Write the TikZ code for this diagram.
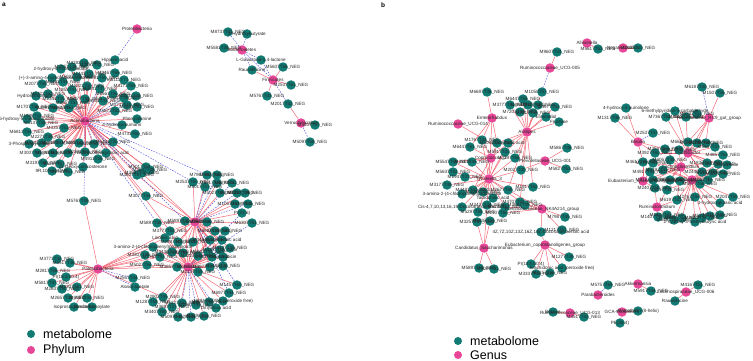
\documentclass[tikz,border=0pt]{standalone}
\usepackage{fontspec}
\setmainfont{Liberation Sans}
\definecolor{metTeal}{RGB}{16,122,115}
\definecolor{taxPink}{RGB}{232,70,150}
\definecolor{posRed}{RGB}{240,80,95}
\definecolor{negBlue}{RGB}{90,90,225}
\pgfdeclarelayer{edges}
\pgfdeclarelayer{dots}
\pgfsetlayers{edges,dots,main}

% taxa: name/x/y/label
\newcommand\taxaList{%
pP/137/29/Proteobacteria, pA1/85/121/Actinobacteria, pB/242/50/Bacteroidetes,
pF/273/80/Firmicutes, pV/301/123/Verrucomicrobia, pPat/98/269/Patescibacteria,
pH2/195/222/Cyanobacteria, pH3/188/267/Tenericutes,
gR05/550/68/{Ruminococcaceae\_UCG-005}, gAll/587/43/Allisonella, gNeg/623/48/Negativibacillus,
gEnt/492/118/Enterorhabdus, gR14/458/124/{Ruminococcaceae\_UCG-014}, gAli/527/132/Alistipes,
gCop/491/158/{Coprococcus\_2}, gP01/545/161/{Prevotellaceae\_UCG-001}, gTyz/489/179/{Tyzzerella\_3},
gNK/542/209/{Ruminococcaceae\_NK4A214\_group}, gSac/484/248/{Candidatus\_Saccharimonas},
gEco/545/245/{Eubacterium\_coprostanoligenes\_group}, gB13/570/313/{Ruminococcaceae\_UCG-013},
gGCA/622/312/{GCA-900066575}, gPar/598/295/Parabacteroides, gAkk/638/284/Akkermansia,
gL06/686/292/{Lachnospiraceae\_UCG-006}, gBla/638/142/Blautia, gRC9/709/118/{Rikenellaceae\_RC9\_gut\_group},
gOsc/688/153/Oscillibacter, gLcl/681/167/Lachnoclostridium, gRu1/692/180/{Ruminococcus\_1},
gExy/643/181/{Eubacterium\_xylanophilum\_group}, gRcl/657/207/Ruminiclostridium}

% metabolites: name/x/y/taxon/link/label
\newcommand\metaList{%
a1/115/60/pP/ncor/{Hippuric acid}, a2/84/63/pA1/pcor/M4283T45\_NEG, a3/97/65/pA1/pcor/M3461T52\_NEG,
a4/61/69/pA1/pcor/{2-hydroxy-6-oxohexanoate}, a5/72/67/pA1/pcor/M2957T48\_NEG, a6/89/74/pA1/pcor/M1441T37\_NEG,
a7/102/78/pA1/ncor/M5291T60\_NEG, a8/115/73/pA1/pcor/M3467T66\_NEG, a9/124/80/pA1/pcor/M6111T71\_NEG,
a10/52/78/pA1/pcor/{(+)-3-amino-4-hydroxybutanoate}, a11/63/82/pA1/pcor/M3191T44\_NEG, a12/77/77/pA1/pcor/M5021T39\_NEG,
a13/42/84/pA1/pcor/M2077T58\_NEG, a14/131/86/pA1/pcor/M4171T63\_NEG, a15/72/90/pA1/pcor/M1853T41\_NEG,
a16/87/86/pA1/pcor/M6221T50\_NEG, a17/100/89/pA1/pcor/M3941T47\_NEG, a18/113/94/pA1/pcor/M2561T55\_NEG,
a19/124/98/pA1/ncor/M7011T36\_NEG, a20/136/96/pA1/pcor/M4533T49\_NEG, a21/36/96/pA1/pcor/Hydroxybupropion,
a22/48/94/pA1/pcor/M5321T62\_NEG, a23/60/99/pA1/pcor/M2341T45\_NEG, a24/85/99/pA1/pcor/M6177T38\_NEG,
a25/73/103/pA1/ncor/M3057T57\_NEG, a26/103/101/pA1/pcor/M4551T43\_NEG, a27/137/107/pA1/pcor/M2931T61\_NEG,
a28/127/105/pA1/ncor/M3711T40\_NEG, a29/115/111/pA1/pcor/M5871T52\_NEG, a30/34/107/pA1/pcor/M1707T59\_NEG,
a31/53/108/pA1/pcor/M4091T46\_NEG, a32/69/108/pA1/pcor/M2617T53\_NEG, a33/37/116/pA1/pcor/M1989T42\_NEG,
a34/27/119/pA1/pcor/{6-hydroxy-5-methoxyindole}, a35/137/119/pA1/pcor/Phenylalanine,
a36/122/125/pA1/ncor/{4-hydroxycoumarin}, a37/41/123/pA1/pcor/M5137T48\_NEG, a38/64/128/pA1/pcor/M3357T51\_NEG,
a39/27/132/pA1/pcor/M6813T44\_NEG, a40/135/134/pA1/pcor/M4731T60\_NEG, a41/48/137/pA1/pcor/M2271T39\_NEG,
a42/29/144/pA1/pcor/{3-Phosphoglycerate}, a43/42/143/pA1/pcor/M4241T55\_NEG, a44/59/143/pA1/pcor/M3617T47\_NEG,
a45/79/143/pA1/pcor/M5491T42\_NEG, a46/94/144/pA1/ncor/M2011T58\_NEG, a47/113/142/pA1/pcor/M6431T35\_NEG,
a48/37/153/pA1/pcor/M3007T49\_NEG, a49/53/153/pA1/pcor/M1887T61\_NEG, a50/68/153/pA1/pcor/M4667T44\_NEG,
a51/85/152/pA1/pcor/M2391T53\_NEG, a52/106/153/pA1/pcor/{Glycodeoxycholic acid}, a53/43/163/pA1/pcor/M3197T40\_NEG,
a54/60/164/pA1/pcor/M5567T57\_NEG, a55/83/167/pA1/pcor/{11-Deoxycorticosterone}, a56/98/159/pA1/pcor/M4911T46\_NEG,
a57/52/171/pA1/pcor/{9R,10S-EpOME}, a58/68/172/pA1/pcor/M2761T51\_NEG, a59/146/167/pA1/pcor/M5017T54\_NEG,
a60/150/170/pA1/pcor/M3827T48\_NEG, a61/142/173/pA1/ncor/M3537T40\_NEG, a62/84/201/pA1/ncor/M5767T38\_NEG,
d1/228/32/pB/ncor/M8737T41\_NEG, d2/247/34/pB/ncor/{3-Hydroxybutyrate}, d3/224/48/pB/pcor/M5581T38\_NEG,
d4/261/60/pF/ncor/{L-Galactono-1,4-lactone}, d5/252/70/pF/pcor/Raucaffricine, d6/283/67/pF/pcor/M5607T56\_NEG,
d7/291/85/pF/pcor/M2537T61\_NEG, d8/267/96/pF/pcor/M5767T43\_NEG, d9/288/104/pV/pcor/M2017T52\_NEG,
d10/315/125/pV/pcor/M5407T47\_NEG, d11/310/142/pV/ncor/M5097T58\_NEG,
c1/57/259/pPat/pcor/M3773T42\_NEG, c2/70/263/pPat/pcor/M5517T38\_NEG, c3/53/271/pPat/pcor/M2817T56\_NEG,
c4/66/277/pPat/pcor/{PI(18:1/20:4)}, c5/52/283/pPat/pcor/M5817T47\_NEG, c6/77/287/pPat/pcor/M4307T61\_NEG,
c7/62/289/pPat/pcor/M2637T50\_NEG, c8/68/298/pPat/pcor/M2657T43\_NEG, c9/87/298/pPat/pcor/M6057T59\_NEG,
c10/74/307/pPat/pcor/{Isoprostaglandin E2}, c11/92/307/pPat/pcor/Descarbamoylate,
c12/133/278/pPat/ncor/M2557T44\_NEG, c13/135/287/pPat/ncor/{Alosol acetate},
b1/207/175/pH2/pcor/M7967T41\_NEG, b2/217/175/pH2/ncor/M4807T55\_NEG, b3/193/182/pH2/pcor/M2537T60\_NEG,
b4/205/187/pH2/ncor/M3017T37\_NEG, b5/217/183/pH2/pcor/M5617T48\_NEG, b6/232/183/pH2/ncor/M6297T52\_NEG,
b7/220/193/pH2/pcor/M5027T45\_NEG, b8/237/193/pH2/ncor/M4387T58\_NEG, b9/245/193/pH2/pcor/M1227T39\_NEG,
b10/235/204/pH2/pcor/M1057T62\_NEG, b11/248/204/pH2/ncor/M3787T46\_NEG, b12/242/213/pH2/pcor/{PI(22:6)},
b13/252/223/pH2/pcor/M6307T51\_NEG, b14/146/196/pH2/pcor/M3077T44\_NEG, b15/137/175/pH2/pcor/M3837T57\_NEG,
b16/185/221/pH2/pcor/M5897T40\_NEG, b17/170/231/pH2/pcor/M3777T53\_NEG, b18/207/222/pH2/pcor/M2467T49\_NEG,
b19/215/231/pH2/pcor/M6617T36\_NEG, b20/225/231/pH2/pcor/M4157T61\_NEG, b21/165/238/pH2/pcor/{Linoleic acid},
b22/178/242/pH2/pcor/M2897T47\_NEG, b23/193/242/pH2/pcor/M5357T55\_NEG, b24/210/240/pH2/pcor/M3467T42\_NEG,
b25/222/240/pH2/pcor/{Hexadecenoic acid}, b26/153/247/pH3/pcor/{3-amino-2-(4-chlorophenyl)propanoate},
b27/172/252/pH3/pcor/M4437T50\_NEG, b28/183/253/pH3/pcor/M2187T58\_NEG, b29/208/252/pH3/pcor/M6047T43\_NEG,
b30/220/250/pH3/pcor/M3397T56\_NEG, b31/230/248/pH3/pcor/M5137T39\_NEG, b32/145/255/pH3/pcor/M3307T48\_NEG,
b33/160/257/pH3/pcor/M2787T62\_NEG, b34/198/256/pH3/pcor/M4227T45\_NEG, b35/212/257/pH3/pcor/M6807T51\_NEG,
b36/223/257/pH3/pcor/Daunorubicin, b37/147/265/pH3/pcor/M5027T54\_NEG, b38/177/267/pH3/pcor/M3657T40\_NEG,
b39/198/272/pH3/pcor/M2137T59\_NEG, b40/210/267/pH3/pcor/M4977T47\_NEG, b41/223/266/pH3/pcor/M5447T38\_NEG,
b42/237/285/pH3/pcor/M1457T60\_NEG, b43/229/293/pH3/pcor/M6977T44\_NEG,
b44/223/301/pH3/pcor/{13(S)-HpODE (peroxide free)}, b45/216/308/pH3/ncor/{Dihydroxy acid},
b46/204/316/pH3/pcor/M2297T53\_NEG, b47/191/317/pH3/ncor/M4127T41\_NEG, b48/209/302/pH3/pcor/M3557T56\_NEG,
b49/196/305/pH3/ncor/M1867T49\_NEG, b50/163/297/pH3/pcor/M2907T45\_NEG, b51/153/302/pH3/pcor/M1287T58\_NEG,
b52/172/307/pH3/pcor/M3687T37\_NEG, b53/182/303/pH3/ncor/M5227T52\_NEG, b54/162/312/pH3/pcor/M3407T60\_NEG,
b55/178/317/pH3/pcor/M5097T46\_NEG, b56/157/223/pH2/pcor/M5897T39\_NEG,
e1/557/52/gR05/pcor/M9607T44\_NEG, e2/542/92/gR05/ncor/M1050T57\_NEG,
f1/598/49/gAll/pcor/M5617T53\_NEG, f2/638/48/gNeg/pcor/M2997T40\_NEG,
h1/487/92/gEnt/pcor/M6697T38\_NEG, h3/523/99/gAli/pcor/M6447T55\_NEG, h4/510/105/gAli/pcor/M3777T41\_NEG,
h5/528/105/gAli/pcor/M8867T60\_NEG, h6/538/105/gAli/pcor/M5127T47\_NEG, h7/555/107/gAli/pcor/M4977T52\_NEG,
h8/520/112/gAli/pcor/M7207T39\_NEG, h9/533/113/gAli/pcor/M2817T58\_NEG, h10/546/117/gAli/pcor/Enterodiol,
h11/559/122/gAli/pcor/Fructose, h12/482/140/gCop/pcor/M1767T44\_NEG, h13/470/147/gCop/pcor/M6447T61\_NEG,
h14/497/143/gCop/pcor/M5091T50\_NEG, h15/508/143/gAli/pcor/{Glycocholic acid}, h16/505/152/gTyz/pcor/M5917T43\_NEG,
h17/515/158/gAli/pcor/M3297T56\_NEG, h18/567/148/gP01/pcor/M5867T48\_NEG, h19/566/169/gP01/pcor/M5827T53\_NEG,
h20/521/170/gP01/pcor/M2027T40\_NEG, h21/453/162/gTyz/pcor/M5547T59\_NEG, h22/472/162/gTyz/pcor/M2317T45\_NEG,
h23/453/172/gTyz/pcor/M5637T52\_NEG, h24/465/177/gTyz/pcor/M1947T37\_NEG, h25/447/185/gTyz/pcor/M3177T49\_NEG,
h26/533/187/gTyz/pcor/M1917T62\_NEG, h27/473/190/gTyz/pcor/M4487T41\_NEG, h28/483/192/gTyz/pcor/M3567T55\_NEG,
h29/508/190/gTyz/pcor/M2677T46\_NEG, h30/493/198/gTyz/pcor/{Taurocholic acid},
h31/462/194/gTyz/pcor/{3-amino-2-(4-chlorophenyl)propanoate}, h32/478/212/gTyz/pcor/M5297T58\_NEG,
h33/487/205/gTyz/pcor/M2427T44\_NEG, h34/505/207/gTyz/pcor/M6187T51\_NEG, h35/525/205/gTyz/pcor/M3887T39\_NEG,
h36/462/207/gTyz/pcor/{Cis-4,7,10,13,16,19-Docosahexaenoic acid}, h37/477/222/gSac/pcor/M3257T47\_NEG,
h38/490/221/gSac/pcor/M6037T53\_NEG, h39/503/213/gNK/pcor/M2107T60\_NEG, h40/520/202/gNK/pcor/M4707T42\_NEG,
h41/541/232/gNK/pcor/{4Z,7Z,10Z,13Z,16Z,19Z-Docosahexaenoic acid}, h42/562/230/gNK/pcor/M1217T57\_NEG,
h43/565/217/gNK/pcor/M7987T45\_NEG, h44/479/268/gSac/pcor/M5897T50\_NEG, h45/494/269/gSac/pcor/M3097T61\_NEG,
h46/531/264/gEco/pcor/{PI(18:0/20:4)}, h47/536/274/gEco/pcor/M3337T43\_NEG, h48/550/273/gEco/pcor/M2157T56\_NEG,
h49/562/268/gEco/pcor/{Arachidonic acid (peroxide free)}, h50/569/257/gEco/pcor/M1277T49\_NEG,
i1/553/312/gB13/pcor/Betaine, i2/584/317/gB13/pcor/M3517T42\_NEG, i3/638/311/gGCA/pcor/{Alamethicin (8-helix)},
i4/620/323/gGCA/pcor/{PE(36:4)}, i5/608/285/gPar/ncor/M5757T59\_NEG, i6/651/291/gAkk/pcor/M5917T44\_NEG,
i7/698/285/gL06/pcor/M4167T51\_NEG, i8/675/301/gL06/pcor/Rauwolscine,
k1/702/87/gRC9/ncor/M6187T40\_NEG, k2/720/93/gRC9/pcor/M1507T56\_NEG, k3/626/108/gBla/pcor/{4-hydroxy-2-quinolone},
k4/615/118/gBla/pcor/M1317T46\_NEG, k5/675/111/gRC9/pcor/{6-methylpyridine-3-carbaldehyde},
k6/666/117/gRC9/pcor/M7367T52\_NEG, k7/686/117/gRC9/pcor/M4017T39\_NEG, k8/697/114/gRC9/pcor/M5337T61\_NEG,
k9/653/133/gBla/ncor/M2537T47\_NEG, k10/665/149/gOsc/pcor/M3567T55\_NEG, k11/679/150/gOsc/pcor/M4427T42\_NEG,
k12/688/142/gOsc/pcor/M6627T58\_NEG, k13/697/143/gOsc/pcor/M2217T44\_NEG, k14/706/143/gOsc/pcor/M1057T50\_NEG,
k15/715/147/gOsc/pcor/M5667T37\_NEG, k16/723/155/gOsc/pcor/M4857T53\_NEG, k17/655/153/gBla/pcor/M3927T60\_NEG,
k18/643/162/gExy/pcor/M4617T45\_NEG, k19/653/163/gLcl/pcor/M2707T51\_NEG, k20/670/160/gLcl/pcor/M6067T38\_NEG,
k21/707/163/gOsc/pcor/M1837T62\_NEG, k22/718/164/gOsc/pcor/M3237T47\_NEG, k23/727/165/gRu1/pcor/Benzamide,
k24/650/172/gExy/pcor/M4917T54\_NEG, k25/663/170/gLcl/pcor/M5197T41\_NEG, k26/702/172/gRu1/pcor/M2447T57\_NEG,
k27/713/173/gRu1/pcor/M6357T43\_NEG, k28/723/174/gRu1/pcor/M3077T49\_NEG, k29/653/180/gExy/pcor/M9127T52\_NEG,
k30/670/180/gRu1/pcor/M2887T39\_NEG, k31/680/181/gRu1/pcor/M4677T60\_NEG, k32/700/184/gRu1/pcor/M5577T46\_NEG,
k33/708/180/gRu1/pcor/M1667T55\_NEG, k34/667/190/gRcl/pcor/M3447T44\_NEG, k35/655/188/gExy/pcor/M2407T58\_NEG,
k36/733/197/gRu1/pcor/M2047T50\_NEG, k37/720/203/gRu1/pcor/{3-hydroxyglutaric acid}, k38/677/200/gRu1/pcor/M6197T41\_NEG,
k39/695/197/gRu1/pcor/M2767T59\_NEG, k40/667/215/gRcl/pcor/M1427T47\_NEG, k41/682/218/gRu1/pcor/M4937T53\_NEG,
k42/702/218/gRu1/pcor/M3617T38\_NEG, k43/710/216/gRu1/pcor/M5247T62\_NEG, k44/720/215/gRu1/pcor/M2117T45\_NEG,
k45/658/217/gRcl/pcor/M1407T56\_NEG, k46/674/220/gRu1/pcor/M6467T42\_NEG,
k47/695/222/gRu1/pcor/{2-hydroxy-3-methylbutyric acid}}

% further links: taxon/link/metabolite
\newcommand\moreLinks{%
pA1/pcor/b14, pA1/pcor/b15, pA1/ncor/b3, pA1/ncor/b16, pA1/ncor/b56, pA1/pcor/pH2, pA1/ncor/b1, pA1/pcor/b17,
pPat/pcor/a62, pPat/pcor/b26, pPat/pcor/b32, pPat/pcor/b33, pPat/pcor/b37, pPat/pcor/b17, pPat/pcor/b38,
pPat/pcor/b21, pPat/pcor/b27, pPat/pcor/b50,
pH2/pcor/b27, pH2/pcor/b28, pH2/pcor/b29, pH2/pcor/b30, pH2/pcor/b34, pH2/pcor/b35, pH2/ncor/b42, pH2/pcor/pH3,
pH2/pcor/b31, pH2/pcor/b36, pH2/pcor/b40, pH2/ncor/b43,
pH3/pcor/b16, pH3/pcor/b17, pH3/pcor/b18, pH3/pcor/b22, pH3/pcor/b23, pH3/ncor/b12, pH3/pcor/b56,
pH3/pcor/b19, pH3/pcor/b20, pH3/pcor/b21, pH3/pcor/b24, pH3/pcor/b25, pH3/ncor/b13,
pB/ncor/d4, pB/ncor/d5, pF/ncor/d9, pB/ncor/pF,
gAli/pcor/e2, gEnt/pcor/h12, gEnt/pcor/h14, gEnt/pcor/h13, gAli/pcor/h14, gCop/pcor/h15, gR14/pcor/h16,
gTyz/pcor/h20, gAli/pcor/h26, gAli/pcor/h16, gAli/pcor/h20, gAli/pcor/h29, gTyz/pcor/h12, gTyz/pcor/h14,
gTyz/pcor/h15, gTyz/pcor/h17, gCop/pcor/h21, gCop/pcor/h22, gCop/pcor/h27, gCop/pcor/h28, gEco/pcor/h41,
gSac/pcor/h33, gNK/pcor/h29, gNK/pcor/h35, gEnt/pcor/gTyz, gAli/pcor/h40, gNK/pcor/h34,
gOsc/pcor/k6, gOsc/pcor/k7, gOsc/pcor/k5, gRC9/pcor/k12, gRC9/pcor/k13, gOsc/pcor/k17, gBla/pcor/k18,
gLcl/pcor/k24, gRu1/pcor/k34, gLcl/pcor/k10, gLcl/pcor/k11, gLcl/pcor/k21, gLcl/pcor/k26, gLcl/pcor/k30,
gLcl/pcor/k31, gLcl/pcor/k38, gRu1/pcor/k19, gRu1/pcor/k20, gRu1/pcor/k25, gOsc/pcor/k26, gOsc/pcor/k30,
gOsc/pcor/k33, gExy/pcor/gLcl, gRcl/pcor/k35, gRcl/pcor/k38, gBla/pcor/k10, gRu1/pcor/k21, gRu1/pcor/k22,
gRC9/pcor/k14, gRC9/pcor/gOsc, gOsc/pcor/k22, gLcl/pcor/k29}

\begin{document}
\begin{tikzpicture}[x=1pt, y=-1pt,
    met/.style={circle, fill=metTeal, inner sep=0pt, minimum size=9.5pt},
    tax/.style={circle, fill=taxPink, inner sep=0pt, minimum size=9.5pt},
    lbl/.style={font=\fontsize{4.6}{5}\selectfont, text=black!85, inner sep=0pt},
    pcor/.style={draw=posRed, line width=0.5pt, draw opacity=0.85},
    ncor/.style={draw=negBlue, line width=0.45pt, dash pattern=on 1.6pt off 1.2pt},
    key/.style={font=\fontsize{12.5}{14}\selectfont, anchor=west, inner sep=0pt}]
  \useasboundingbox (0,0) rectangle (753,361);

  \begin{pgfonlayer}{dots}
    \foreach \id/\px/\py/\hub/\kind/\txt in \metaList
      \node[met] (\id) at (\px,\py) {};
    \foreach \id/\px/\py/\txt in \taxaList
      \node[tax] (\id) at (\px,\py) {};
  \end{pgfonlayer}

  \begin{pgfonlayer}{edges}
    \foreach \id/\px/\py/\hub/\kind/\txt in \metaList
      \draw[\kind] (\hub) -- (\id);
    \foreach \hub/\kind/\id in \moreLinks
      \draw[\kind] (\hub) -- (\id);
  \end{pgfonlayer}

  % labels sit on top of every dot
  \foreach \id/\px/\py/\hub/\kind/\txt in \metaList
    \node[lbl] at (\id) {\txt};
  \foreach \id/\px/\py/\txt in \taxaList
    \node[lbl] at (\id) {\txt};

  % panel tags
  \node[font=\bfseries\fontsize{6.5}{7}\selectfont] (tagA) at (4,5) {a};
  \node[font=\bfseries\fontsize{6.5}{7}\selectfont] (tagB) at (383,5) {b};

  % legends
  \node[met, minimum size=8pt] (keyMetA) at (31,334) {};
  \node[key] at (43,334) {metabolome};
  \node[tax, minimum size=8pt] (keyPhy) at (31,350) {};
  \node[key] at (43,350) {Phylum};
  \node[met, minimum size=8pt] (keyMetB) at (458,341) {};
  \node[key] at (470,341) {metabolome};
  \node[tax, minimum size=8pt] (keyGen) at (458,355) {};
  \node[key] at (470,355) {Genus};
\end{tikzpicture}
\end{document}
